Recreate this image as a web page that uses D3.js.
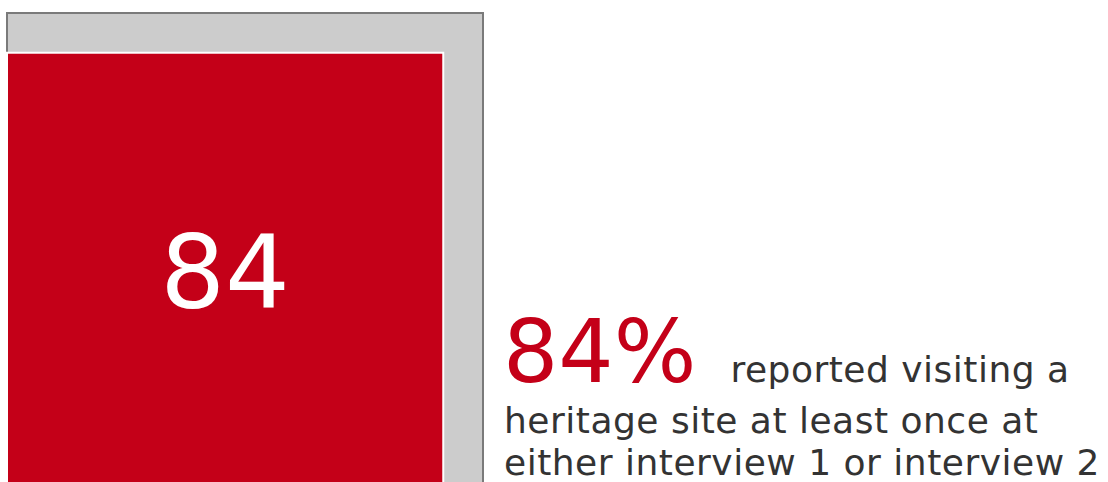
<!DOCTYPE html>
<html>
<head>
<meta charset="utf-8">
<script src="https://cdn.jsdelivr.net/npm/d3@7"></script>
<style>
  html, body { margin: 0; padding: 0; background: #fff; }
  svg { display: block; }
</style>
</head>
<body>
<svg id="chart" width="1108" height="482"></svg>
<script>
// Share of respondents who visited a heritage site (percent)
const categories = ["Visited a heritage site", "All respondents"];
const values = [84, 100];
const valueLabels = ["84"];
const headline = "84%";
const captionLines = ["reported visiting a", "heritage site at least once at", "either interview 1 or interview 2"];

const svg = d3.select("#chart");
const font = "'DejaVu Sans', Verdana, sans-serif";

// Square area proportional to value: side scales with sqrt
const origin = { x: 7, y: 13 };
const side = d3.scaleSqrt().domain([0, 100]).range([0, 476]);
const fullSide = side(values[1]);
const bottom = origin.y + fullSide;

// Background square (100%)
svg.append("rect")
  .attr("x", origin.x)
  .attr("y", origin.y)
  .attr("width", side(values[1]))
  .attr("height", side(values[1]))
  .attr("fill", "#cccccc")
  .attr("stroke", "#7a7a7a")
  .attr("stroke-width", 2);

// Value square anchored bottom-left
const s = side(values[0]);
svg.append("rect")
  .attr("x", origin.x)
  .attr("y", bottom - s)
  .attr("width", s)
  .attr("height", s)
  .attr("fill", "#c40018")
  .attr("stroke", "#ffffff")
  .attr("stroke-width", 2);

svg.append("text")
  .attr("x", origin.x + s / 2)
  .attr("y", 308)
  .attr("text-anchor", "middle")
  .attr("font-family", font)
  .attr("font-size", 102)
  .attr("fill", "#ffffff")
  .text(valueLabels[0]);

// Caption
const cap = svg.append("text")
  .attr("font-family", font)
  .attr("fill", "#333333");

cap.append("tspan")
  .attr("x", 503)
  .attr("y", 382)
  .attr("font-size", 87)
  .attr("fill", "#c40018")
  .text(headline);

cap.append("tspan")
  .attr("dx", 34)
  .attr("font-size", 36)
  .attr("letter-spacing", 0.5)
  .text(captionLines[0]);

captionLines.slice(1).forEach((line, i) => {
  cap.append("tspan")
    .attr("x", 504)
    .attr("y", 433 + i * 42)
    .attr("font-size", 36)
    .attr("letter-spacing", 0.5)
    .text(line);
});
</script>
</body>
</html>
